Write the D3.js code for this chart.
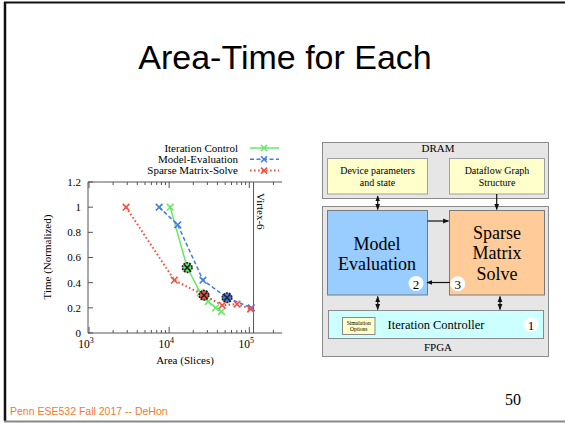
<!DOCTYPE html>
<html>
<head>
<meta charset="utf-8">
<script src="https://cdn.jsdelivr.net/npm/d3@7"></script>
<style>
  body { margin: 0; background: #fff; }
  svg { display: block; }
  .serif { font-family: "Liberation Serif", "DejaVu Serif", serif; }
</style>
</head>
<body>
<div id="slide"></div>
<script>
var W = 565, H = 424;

// chart data
const seriesNames = ["Iteration Control", "Model-Evaluation", "Sparse Matrix-Solve"];
const iterArea = [10300, 16800, 24500, 30700, 38000, 45000];
const iterTime = [1.0, 0.52, 0.32, 0.25, 0.20, 0.17];
const modelArea = [7500, 12800, 26400, 52700, 106000];
const modelTime = [1.0, 0.86, 0.42, 0.28, 0.20];
const sparseArea = [2900, 11600, 27200, 46000, 70300, 104000];
const sparseTime = [1.0, 0.42, 0.30, 0.22, 0.23, 0.19];
const highlight = [1, 3, 2]; // chosen design point per series
const xTickVals = [1e3, 1e4, 1e5];
const yTickVals = [0, 0.2, 0.4, 0.6, 0.8, 1, 1.2];
const virtexArea = 113000;

var colors = ["#66e866", "#3f7be8", "#f5503f"];
var dashes = [null, "4,2.5", "1.6,2.4"];

var svg = d3.select("#slide").append("svg").attr("width", W).attr("height", H);

// slide frame
svg.append("line").attr("x1", 4).attr("x2", W).attr("y1", 2.5).attr("y2", 2.5)
  .attr("stroke", "#111").attr("stroke-width", 2);
svg.append("line").attr("x1", 5).attr("x2", 5).attr("y1", 2).attr("y2", 421)
  .attr("stroke", "#111").attr("stroke-width", 2.5);
svg.append("line").attr("x1", 4).attr("x2", W).attr("y1", 421.5).attr("y2", 421.5)
  .attr("stroke", "#888").attr("stroke-width", 2);

svg.append("text").attr("x", 285).attr("y", 69).attr("text-anchor", "middle")
  .style("font-family", "'Liberation Sans', Arial, sans-serif").style("font-size", "34px")
  .text("Area-Time for Each");

svg.append("text").attr("x", 10).attr("y", 415)
  .style("font-family", "'Liberation Sans', Arial, sans-serif").style("font-size", "10.5px")
  .attr("fill", "#f07a2a").text("Penn ESE532 Fall 2017 -- DeHon");

svg.append("text").attr("x", 505).attr("y", 405).attr("class", "serif")
  .style("font-size", "16px").text("50");

// ---------------- chart ----------------
var plotLeft = 88, plotTop = 182, plotBottom = 333, clipRight = 282;
var x = d3.scaleLog().domain([1e3, 1e5]).range([89, 249.3]);
var y = d3.scaleLinear().domain([0, 1.2]).range([plotBottom, plotTop]);
var axisColor = "#555";

var chart = svg.append("g").attr("class", "serif");

// frame (right side cut off in the original picture)
chart.append("path")
  .attr("d", "M" + clipRight + "," + plotTop + "H" + plotLeft + "V" + plotBottom + "H" + clipRight)
  .attr("fill", "none").attr("stroke", axisColor).attr("stroke-width", 1);

// log ticks
var minor = [];
for (var k = 3; k <= 5; k++) {
  for (var m = 1; m <= 9; m++) {
    var v = m * Math.pow(10, k);
    if (x(v) < clipRight) minor.push(v);
  }
}
minor.forEach(function (v) {
  var len = (String(v)[0] === "1") ? 6 : 3;
  var px = x(v);
  chart.append("line").attr("x1", px).attr("x2", px).attr("y1", plotBottom).attr("y2", plotBottom - len)
    .attr("stroke", axisColor);
  chart.append("line").attr("x1", px).attr("x2", px).attr("y1", plotTop).attr("y2", plotTop + len)
    .attr("stroke", axisColor);
});
xTickVals.forEach(function (v) {
  var t = chart.append("text").attr("x", x(v) - 3).attr("y", 348).attr("text-anchor", "middle")
    .style("font-size", "11.5px");
  t.append("tspan").text("10");
  t.append("tspan").attr("dy", -5).style("font-size", "8px").text(Math.log10(v));
});
yTickVals.forEach(function (v) {
  chart.append("line").attr("x1", plotLeft).attr("x2", plotLeft + 5).attr("y1", y(v)).attr("y2", y(v))
    .attr("stroke", axisColor);
  chart.append("text").attr("x", 81).attr("y", y(v)).attr("dy", "0.35em")
    .attr("text-anchor", "end").style("font-size", "11px").text(v);
});

chart.append("text").attr("x", 185).attr("y", 364).attr("text-anchor", "middle")
  .style("font-size", "11px").text("Area (Slices)");
chart.append("text").attr("transform", "translate(51,257) rotate(-90)")
  .attr("text-anchor", "middle").style("font-size", "11px").text("Time (Normalized)");

// Virtex-6 capacity line
chart.append("line").attr("x1", x(virtexArea)).attr("x2", x(virtexArea))
  .attr("y1", plotTop).attr("y2", plotBottom).attr("stroke", axisColor);
chart.append("text").attr("transform", "translate(" + (x(virtexArea) + 3) + "," + (plotTop + 11) + ") rotate(90)")
  .style("font-size", "11px").text("Virtex-6");

function cross(g, cx, cy, color, r) {
  g.append("path")
    .attr("d", "M" + (cx - r) + "," + (cy - r) + "L" + (cx + r) + "," + (cy + r) +
      "M" + (cx - r) + "," + (cy + r) + "L" + (cx + r) + "," + (cy - r))
    .attr("stroke", color).attr("stroke-width", 1.6).attr("fill", "none");
}

var series = [
  { area: iterArea, time: iterTime },
  { area: modelArea, time: modelTime },
  { area: sparseArea, time: sparseTime },
];

var line = d3.line().x(function (d) { return x(d[0]); }).y(function (d) { return y(d[1]); });

series.forEach(function (s, i) {
  var pts = d3.zip(s.area, s.time);
  chart.append("path").datum(pts).attr("d", line)
    .attr("fill", "none").attr("stroke", colors[i])
    .attr("stroke-width", i === 2 ? 2 : 1.5)
    .attr("stroke-dasharray", dashes[i]);
  pts.forEach(function (p, j) {
    if (j === highlight[i]) {
      chart.append("circle").attr("cx", x(p[0])).attr("cy", y(p[1])).attr("r", 4.8)
        .attr("fill", colors[i]).attr("stroke", "#222").attr("stroke-width", 1.6)
        .attr("stroke-dasharray", "2,1");
      cross(chart, x(p[0]), y(p[1]), "#222", 3);
    } else {
      cross(chart, x(p[0]), y(p[1]), colors[i], 3.3);
    }
  });
});

// legend
seriesNames.forEach(function (name, i) {
  var ly = 148 + i * 11.3;
  chart.append("text").attr("x", 238).attr("y", ly).attr("dy", "0.35em")
    .attr("text-anchor", "end").style("font-size", "11px").text(name);
  chart.append("line").attr("x1", 250).attr("x2", 279).attr("y1", ly).attr("y2", ly)
    .attr("stroke", colors[i]).attr("stroke-width", i === 2 ? 2 : 1.5)
    .attr("stroke-dasharray", dashes[i]);
  cross(chart, 264, ly, colors[i], 3);
});

// ---------------- block diagram ----------------
var dg = svg.append("g").attr("class", "serif");

var defs = svg.append("defs");
defs.append("marker").attr("id", "ah").attr("viewBox", "0 0 10 10")
  .attr("refX", 9).attr("refY", 5).attr("markerWidth", 5).attr("markerHeight", 5)
  .attr("orient", "auto-start-reverse")
  .append("path").attr("d", "M0,1L10,5L0,9Z").attr("fill", "#111");

function box(x0, y0, x1, y1, fill, stroke) {
  dg.append("rect").attr("x", x0).attr("y", y0).attr("width", x1 - x0).attr("height", y1 - y0)
    .attr("fill", fill).attr("stroke", stroke || "#8a8a8a").attr("stroke-width", 1);
}
function label(lines, cx, cy, size, gap) {
  lines.forEach(function (t, i) {
    dg.append("text").attr("x", cx).attr("y", cy + (i - (lines.length - 1) / 2) * gap)
      .attr("dy", "0.35em").attr("text-anchor", "middle").style("font-size", size + "px").text(t);
  });
}
function arrow(x1, y1, x2, y2, both) {
  var l = dg.append("line").attr("x1", x1).attr("y1", y1).attr("x2", x2).attr("y2", y2)
    .attr("stroke", "#111").attr("stroke-width", 1.2).attr("marker-end", "url(#ah)");
  if (both) l.attr("marker-start", "url(#ah)");
}
function badge(cx, cy, n) {
  dg.append("circle").attr("cx", cx).attr("cy", cy).attr("r", 7.5).attr("fill", "#fff");
  label([n], cx, cy + 0.5, 13, 0);
}

box(322.5, 142.5, 548.5, 198.5, "#e6e6e6");
label(["DRAM"], 438, 148, 11, 0);
box(327.5, 158.5, 427.5, 194, "#ffffcc", "#a0a0a0");
label(["Device parameters", "and state"], 377.5, 176.5, 10, 12);
box(449.5, 158.5, 544.5, 194, "#ffffcc", "#a0a0a0");
label(["Dataflow Graph", "Structure"], 497, 176.5, 10, 12);

box(322.5, 206.5, 548.5, 356.5, "#e6e6e6");
box(327.5, 210.5, 427.5, 295, "#99ccff", "#7a7a7a");
label(["Model", "Evaluation"], 377, 253.5, 18, 20);
box(449.5, 210.5, 544.5, 295, "#ffcc99", "#7a7a7a");
label(["Sparse", "Matrix", "Solve"], 497, 253, 18, 20.5);

box(328.5, 310.5, 543.5, 338.5, "#ccffff", "#8a8a8a");
label(["Iteration Controller"], 436, 325, 12.5, 0);
box(342.5, 317.5, 375, 334.5, "#ffffcc", "#8a8a8a");
label(["Simulation", "Options"], 358.7, 326, 5.5, 6.5);
label(["FPGA"], 438, 347.5, 11, 0);

arrow(377.7, 196, 377.7, 209.5, true);
arrow(496.7, 194, 496.7, 209.5, false);
arrow(427.5, 221, 448.5, 221, false);
arrow(450, 282.5, 427, 282.5, false);
arrow(377.7, 296.5, 377.7, 309.5, true);
arrow(500, 296.5, 500, 309.5, true);

badge(416, 283.5, "2");
badge(457.7, 283.7, "3");
badge(531, 324.5, "1");
</script>
</body>
</html>
